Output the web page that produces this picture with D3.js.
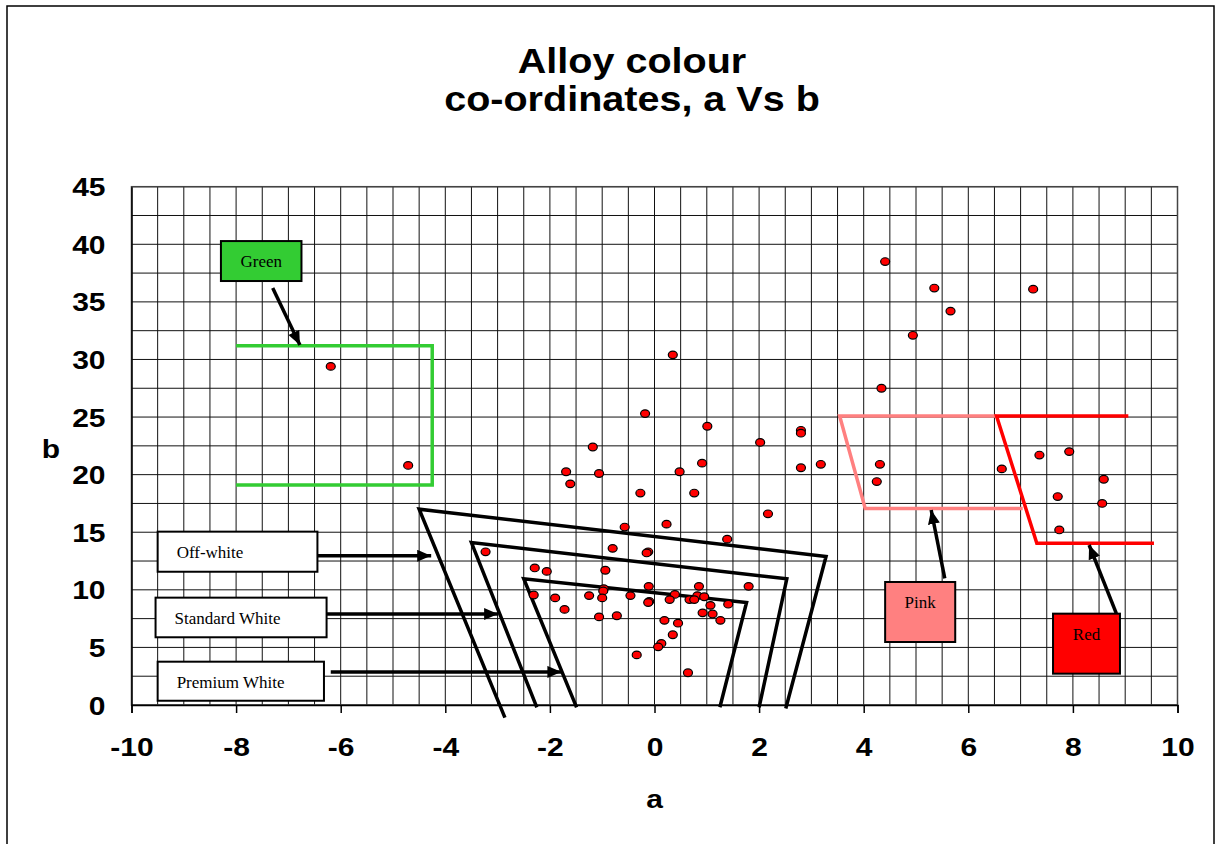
<!DOCTYPE html>
<html>
<head>
<meta charset="utf-8">
<script src="https://cdn.jsdelivr.net/npm/d3@7"></script>
<style>
    body { margin: 0; background: #fff; }
    svg { display: block; }
</style>
</head>
<body>
<div id="chart"></div>
<script>
// measured points, a then b
var aValues = [-6.19, -4.71, 4.41, 0.35, 4.34, -0.18, 1.01, 2.80, 2.80, 2.02,
    -1.18, 0.91, 2.80, 3.18, 4.31, 5.35, 7.24, 5.66, 4.94, 7.36,
    7.93, 6.64, 8.59, 7.71, 8.56, 7.74, 4.25, -1.69, -1.06, -1.61,
    0.48, -0.27, 0.76, 2.17, -0.57, 0.23, 1.39, -0.80, -0.12, -0.15,
    -2.29, -2.06, -0.94, -0.11, 0.85, 1.80, -0.97, -0.98, -2.31, -1.90,
    -1.25, -1.00, -0.46, 0.39, 0.82, 0.95, 0.29, 0.67, 0.76, -0.10,
    -0.12, 1.41, 1.07, -1.72, 0.92, 1.11, -1.06, -0.72, 1.26, 0.19,
    0.45, 0.35, 0.13, 0.07, -0.34, 0.64, -3.23];
var bValues = [29.4, 20.8, 38.5, 30.4, 27.5, 25.3, 24.2, 23.85, 23.6, 22.8,
    22.4, 21.0, 20.6, 20.9, 20.9, 36.2, 36.1, 34.2, 32.1, 21.7,
    22.0, 20.5, 19.6, 18.1, 17.5, 15.2, 19.4, 20.25, 20.1, 19.2,
    20.25, 18.4, 18.4, 16.6, 15.45, 15.7, 14.4, 13.6, 13.3, 13.2,
    11.9, 11.6, 11.7, 10.3, 10.3, 10.3, 10.1, 9.9, 9.55, 9.3,
    9.5, 9.3, 9.5, 9.6, 9.5, 9.4, 9.15, 9.15, 9.15, 9.0,
    8.9, 8.75, 8.65, 8.3, 8.0, 7.9, 7.65, 7.75, 7.35, 7.35,
    7.1, 6.1, 5.35, 5.05, 4.35, 2.8, 13.3];

// colour regions as [a, b] corners
var greenRegion = [[-8, 31.2], [-4.25, 31.2], [-4.25, 19.1], [-8, 19.1]];
var pinkRegion = [[6.54, 25.1], [3.54, 25.1], [4.03, 17.05], [7.04, 17.05]];
var redRegion = [[9.06, 25.1], [6.54, 25.1], [7.31, 14.05], [9.55, 14.05]];
var offWhiteRegion = [[-2.86, -1.1], [-4.5, 17.0], [3.28, 12.9], [2.51, -0.3]];
var standardWhiteRegion = [[-2.25, -0.2], [-3.5, 14.1], [2.53, 10.96], [2.0, -0.2]];
var premiumWhiteRegion = [[-1.49, -0.2], [-2.5, 10.96], [1.76, 8.9], [1.25, -0.2]];

var xTickValues = [-10, -8, -6, -4, -2, 0, 2, 4, 6, 8, 10];
var yTickValues = [0, 5, 10, 15, 20, 25, 30, 35, 40, 45];
var xTickLabels = ["-10", "-8", "-6", "-4", "-2", "0", "2", "4", "6", "8", "10"];
var yTickLabels = ["0", "5", "10", "15", "20", "25", "30", "35", "40", "45"];

var titleLines = ["Alloy colour", "co-ordinates, a Vs b"];
var labelNames = ["Green", "Off-white", "Standard White", "Premium White", "Pink", "Red"];

const WIDTH = 1222;
const HEIGHT = 844;

// label boxes in data units: [a0, b0, a1, b1], arrows [from a, from b, to a, to b]
var labelLayout = [
    {box: [-8.29, 40.28, -6.75, 36.81], arrow: [-7.30, 36.2, -6.78, 31.26], fill: "#33cc33", centre: true},
    {box: [-9.50, 15.05, -6.445, 11.57], arrow: [-6.51, 12.96, -4.27, 12.96], fill: "#fff", centre: false},
    {box: [-9.54, 9.32, -6.27, 5.88], arrow: [-6.27, 7.90, -2.99, 7.90], fill: "#fff", centre: false},
    {box: [-9.50, 3.76, -6.32, 0.37], arrow: [-6.19, 2.87, -1.78, 2.87], fill: "#fff", centre: false},
    {box: [4.41, 10.68, 5.75, 5.47], arrow: [5.55, 11.0, 5.29, 16.93], fill: "#ff8080", centre: true},
    {box: [7.62, 7.93, 8.90, 2.72], arrow: [8.83, 7.96, 8.31, 13.89], fill: "#ff0000", centre: true}
];

var x = d3.scaleLinear().domain([-10, 10]).range([131.5, 1177.5]);
var y = d3.scaleLinear().domain([0, 45]).range([705, 186.7]);

var svg = d3.select("#chart").append("svg")
    .attr("width", WIDTH)
    .attr("height", HEIGHT);

svg.append("rect")
    .attr("x", 7).attr("y", 6)
    .attr("width", 1207).attr("height", 860)
    .attr("fill", "#fff")
    .attr("stroke", "#000")
    .attr("stroke-width", 1.5);

// title
svg.selectAll("text.title")
    .data(titleLines)
    .enter().append("text")
    .attr("class", "title")
    .attr("transform", function(d, i) { return "translate(632," + (73 + i * 38) + ") scale(1.13,1)"; })
    .attr("text-anchor", "middle")
    .style("font-family", "'Liberation Sans', Arial, sans-serif")
    .style("font-weight", "bold")
    .style("font-size", "35px")
    .text(function(d) { return d; });

// grid
var grid = svg.append("g");
grid.selectAll("line.v")
    .data(d3.range(-10, 10.01, 0.5))
    .enter().append("line")
    .attr("x1", function(d) { return x(d); })
    .attr("x2", function(d) { return x(d); })
    .attr("y1", y(0)).attr("y2", y(45))
    .attr("stroke", "#111").attr("stroke-width", 1);
grid.selectAll("line.h")
    .data(d3.range(0, 45.01, 2.5))
    .enter().append("line")
    .attr("x1", x(-10)).attr("x2", x(10))
    .attr("y1", function(d) { return y(d); })
    .attr("y2", function(d) { return y(d); })
    .attr("stroke", "#111").attr("stroke-width", 1);
grid.append("rect")
    .attr("x", x(-10)).attr("y", y(45))
    .attr("width", x(10) - x(-10)).attr("height", y(0) - y(45))
    .attr("fill", "none").attr("stroke", "#444").attr("stroke-width", 1.5);

// axes
var xAxis = svg.append("g")
    .attr("transform", "translate(0," + y(0) + ")")
    .call(d3.axisBottom(x).tickValues(xTickValues).tickSize(8)
        .tickFormat(function(d, i) { return xTickLabels[i]; }));
xAxis.select(".domain").attr("stroke-width", 1.5);
xAxis.selectAll(".tick line").attr("stroke-width", 1.5);
xAxis.selectAll(".tick text")
    .attr("y", null).attr("dy", null)
    .attr("transform", "translate(0,51) scale(1.2,1)")
    .attr("fill", "#000")
    .style("font-family", "'Liberation Sans', Arial, sans-serif")
    .style("font-weight", "bold")
    .style("font-size", "25px");

var yAxis = svg.append("g")
    .attr("transform", "translate(" + x(-10) + ",0)")
    .call(d3.axisLeft(y).tickValues(yTickValues).tickSize(0)
        .tickFormat(function(d, i) { return yTickLabels[i]; }));
yAxis.select(".domain").attr("stroke-width", 1.5);
yAxis.selectAll(".tick text")
    .attr("x", null).attr("dy", null)
    .attr("transform", "translate(-26,9) scale(1.2,1)")
    .attr("fill", "#000")
    .style("font-family", "'Liberation Sans', Arial, sans-serif")
    .style("font-weight", "bold")
    .style("font-size", "25px");

svg.append("text")
    .attr("transform", "translate(51,458) scale(1.2,1)")
    .attr("text-anchor", "middle")
    .style("font-family", "'Liberation Sans', Arial, sans-serif")
    .style("font-weight", "bold")
    .style("font-size", "25px")
    .text("b");
svg.append("text")
    .attr("transform", "translate(" + x(0) + ",808) scale(1.2,1)")
    .attr("text-anchor", "middle")
    .style("font-family", "'Liberation Sans', Arial, sans-serif")
    .style("font-weight", "bold")
    .style("font-size", "25px")
    .text("a");

// regions
var line = d3.line()
    .x(function(d) { return x(d[0]); })
    .y(function(d) { return y(d[1]); });

var regions = [
    {pts: greenRegion, colour: "#33cc33"},
    {pts: pinkRegion, colour: "#ff8080"},
    {pts: redRegion, colour: "#ff0000"},
    {pts: offWhiteRegion, colour: "#000"},
    {pts: standardWhiteRegion, colour: "#000"},
    {pts: premiumWhiteRegion, colour: "#000"}
];
svg.append("g").selectAll("path")
    .data(regions)
    .enter().append("path")
    .attr("d", function(d) { return line(d.pts); })
    .attr("fill", "none")
    .attr("stroke", function(d) { return d.colour; })
    .attr("stroke-width", 3.5)
    .attr("stroke-linejoin", "miter");

// points
svg.append("g").selectAll("ellipse")
    .data(aValues)
    .enter().append("ellipse")
    .attr("cx", function(d) { return x(d); })
    .attr("cy", function(d, i) { return y(bValues[i]); })
    .attr("rx", 4.5)
    .attr("ry", 3.8)
    .attr("fill", "#ff0000")
    .attr("stroke", "#000")
    .attr("stroke-width", 1.2);

// label boxes and arrows
svg.append("defs").append("marker")
    .attr("id", "head")
    .attr("markerUnits", "userSpaceOnUse")
    .attr("viewBox", "0 0 14 12")
    .attr("refX", 14).attr("refY", 6)
    .attr("markerWidth", 14).attr("markerHeight", 12)
    .attr("orient", "auto")
    .append("path")
    .attr("d", "M0,0 L14,6 L0,12 Z")
    .attr("fill", "#000");

var labels = svg.append("g").selectAll("g")
    .data(labelLayout)
    .enter().append("g");

labels.append("line")
    .attr("x1", function(d) { return x(d.arrow[0]); })
    .attr("y1", function(d) { return y(d.arrow[1]); })
    .attr("x2", function(d) { return x(d.arrow[2]); })
    .attr("y2", function(d) { return y(d.arrow[3]); })
    .attr("stroke", "#000")
    .attr("stroke-width", 3.5)
    .attr("marker-end", "url(#head)");

labels.append("rect")
    .attr("x", function(d) { return x(d.box[0]); })
    .attr("y", function(d) { return y(d.box[1]); })
    .attr("width", function(d) { return x(d.box[2]) - x(d.box[0]); })
    .attr("height", function(d) { return y(d.box[3]) - y(d.box[1]); })
    .attr("fill", function(d) { return d.fill; })
    .attr("stroke", "#000")
    .attr("stroke-width", 2);

labels.append("text")
    .attr("x", function(d) { return d.centre ? (x(d.box[0]) + x(d.box[2])) / 2 : x(d.box[0]) + 19; })
    .attr("y", function(d) { return y(d.box[1]) + 26; })
    .attr("text-anchor", function(d) { return d.centre ? "middle" : "start"; })
    .style("font-family", "'Liberation Serif', 'Times New Roman', serif")
    .style("font-size", "17px")
    .text(function(d, i) { return labelNames[i]; });
</script>
</body>
</html>
